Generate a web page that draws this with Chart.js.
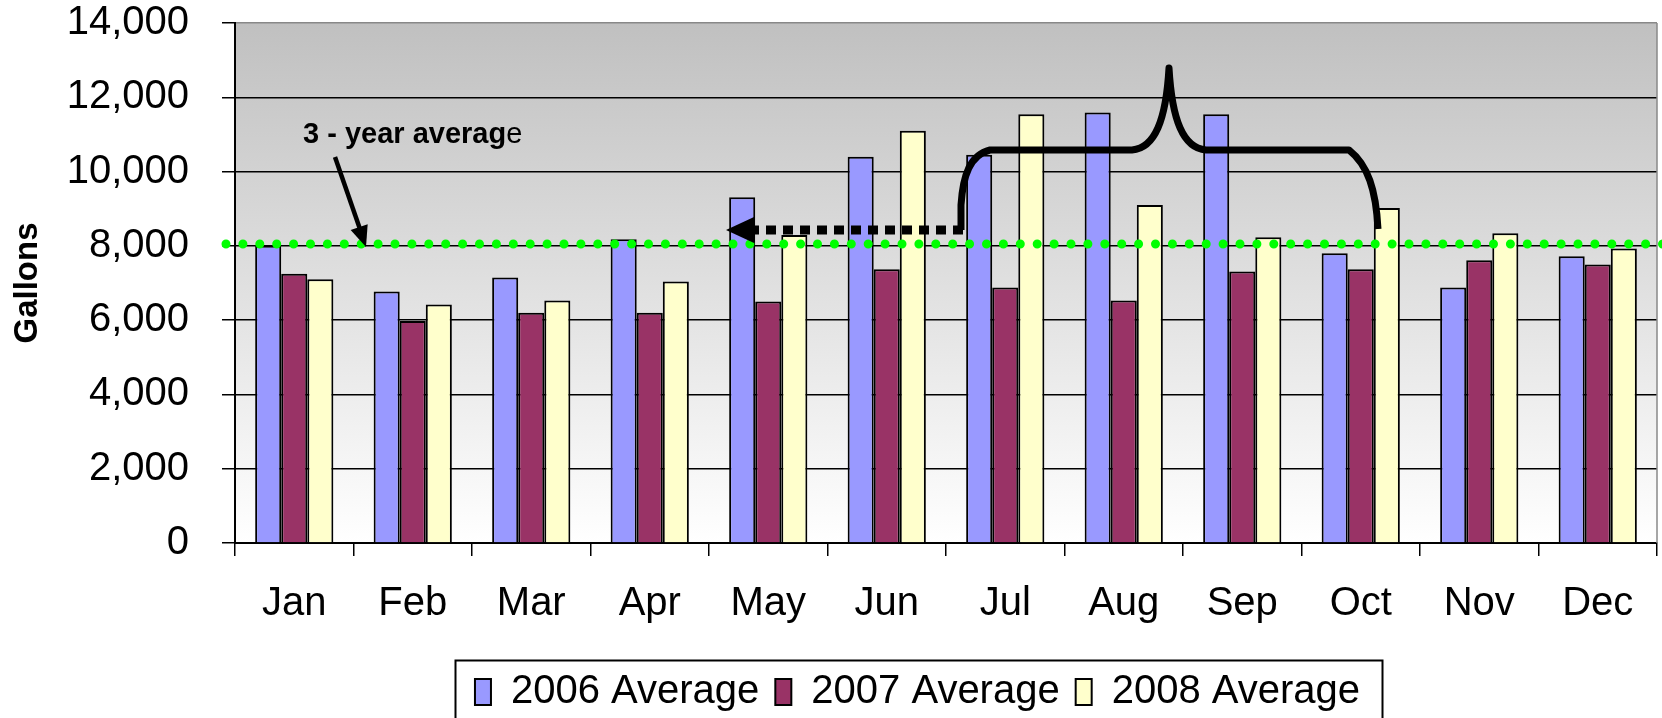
<!DOCTYPE html>
<html>
<head>
<meta charset="utf-8">
<title>Monthly Average Gallons</title>
<script src="https://cdn.jsdelivr.net/npm/chart.js@4.4.0/dist/chart.umd.min.js"></script>
<style>
  html, body { margin: 0; padding: 0; background: #fff; }
  #wrap { width: 1662px; height: 718px; }
</style>
</head>
<body>
<div id="wrap"><canvas id="usageChart"></canvas></div>
<script>
const months = ["Jan", "Feb", "Mar", "Apr", "May", "Jun", "Jul", "Aug", "Sep", "Oct", "Nov", "Dec"];
const avg2006 = [8000, 6770, 7150, 8180, 9310, 10400, 10450, 11590, 11540, 7800, 6880, 7720];
const avg2007 = [7250, 5980, 6200, 6200, 6500, 7370, 6880, 6530, 7310, 7370, 7610, 7500];
const avg2008 = [7100, 6420, 6530, 7040, 8290, 11100, 11540, 9100, 8230, 9020, 8340, 7930];
const yTicks = [0, 2000, 4000, 6000, 8000, 10000, 12000, 14000];
const threeYearAverage = 8050;

const FONT = "'Liberation Sans', Arial, Helvetica, sans-serif";

// grey-to-white fill behind the bars
const plotBackground = {
  id: "plotBackground",
  beforeDraw(chart) {
    const { ctx, chartArea: a } = chart;
    const g = ctx.createLinearGradient(0, a.top, 0, a.bottom);
    g.addColorStop(0, "#c0c0c0");
    g.addColorStop(1, "#ffffff");
    ctx.save();
    ctx.fillStyle = g;
    ctx.fillRect(a.left, a.top, a.right - a.left, a.bottom - a.top);
    ctx.restore();
  },
  afterDatasetsDraw(chart) {
    const { ctx, chartArea: a } = chart;
    ctx.save();
    // right border of the plot
    ctx.strokeStyle = "#888";
    ctx.lineWidth = 1.5;
    ctx.beginPath();
    ctx.moveTo(a.right, a.top);
    ctx.lineTo(a.right, a.bottom);
    ctx.stroke();
    // green dotted 3-year average line
    const y = chart.scales.y.getPixelForValue(threeYearAverage);
    ctx.strokeStyle = "#00ff00";
    ctx.lineWidth = 9;
    ctx.lineCap = "round";
    ctx.setLineDash([0, 16.9]);
    ctx.beginPath();
    ctx.moveTo(a.left - 9, y);
    ctx.lineTo(chart.width + 10, y);
    ctx.stroke();
    ctx.restore();
  }
};

function arrowHead(ctx, tx, ty, fx, fy, len, half) {
  const ang = Math.atan2(ty - fy, tx - fx);
  ctx.beginPath();
  ctx.moveTo(tx, ty);
  ctx.lineTo(tx - len * Math.cos(ang) + half * Math.sin(ang), ty - len * Math.sin(ang) - half * Math.cos(ang));
  ctx.lineTo(tx - len * Math.cos(ang) - half * Math.sin(ang), ty - len * Math.sin(ang) + half * Math.cos(ang));
  ctx.closePath();
  ctx.fill();
}

// hand-drawn notes on top of the chart
const notes = {
  id: "notes",
  afterDraw(chart) {
    const ctx = chart.ctx;
    ctx.save();
    ctx.fillStyle = "#000";
    ctx.strokeStyle = "#000";

    // label
    ctx.textBaseline = "middle";
    ctx.font = "bold 29px " + FONT;
    const part = "3 - year averag";
    ctx.fillText(part, 303, 135);
    const w = ctx.measureText(part).width;
    ctx.font = "29px " + FONT;
    ctx.fillText("e", 303 + w, 135);

    // arrow to the average line
    ctx.lineWidth = 4.5;
    ctx.beginPath();
    ctx.moveTo(335, 157);
    ctx.lineTo(361, 232);
    ctx.stroke();
    arrowHead(ctx, 366, 247, 335, 157, 21, 9);

    // dotted arrow pointing left
    ctx.lineWidth = 9;
    ctx.setLineDash([10, 7]);
    ctx.beginPath();
    ctx.moveTo(963, 230);
    ctx.lineTo(750, 230);
    ctx.stroke();
    ctx.setLineDash([]);
    ctx.beginPath();
    ctx.moveTo(726, 230);
    ctx.lineTo(754, 217);
    ctx.lineTo(754, 243);
    ctx.closePath();
    ctx.fill();

    // curly brace over the summer months
    ctx.lineWidth = 7;
    ctx.lineJoin = "round";
    ctx.beginPath();
    ctx.moveTo(961, 230);
    ctx.lineTo(961, 205);
    ctx.bezierCurveTo(963, 175, 970, 155, 990, 150);
    ctx.lineTo(1132, 150);
    ctx.bezierCurveTo(1155, 148, 1166, 120, 1169, 68);
    ctx.bezierCurveTo(1172, 120, 1183, 148, 1206, 150);
    ctx.lineTo(1349, 150);
    ctx.bezierCurveTo(1368, 165, 1376, 190, 1378, 229);
    ctx.stroke();
    ctx.restore();
  }
};

// move the legend under the bars and frame it
const legendFrame = {
  id: "legendFrame",
  afterLayout(chart) {
    const lg = chart.legend;
    lg.left += 89;
    lg.right += 89;
    lg.top += 4;
    lg.bottom += 4;
  },
  afterDraw(chart) {
    const boxes = chart.legend.legendHitBoxes;
    if (!boxes || !boxes.length) return;
    const l = Math.min(...boxes.map(b => b.left)) - 20;
    const r = Math.max(...boxes.map(b => b.left + b.width)) + 22;
    const ctx = chart.ctx;
    ctx.save();
    ctx.strokeStyle = "#000";
    ctx.lineWidth = 2;
    ctx.strokeRect(Math.round(l) + 0.5, 660.5, Math.round(r - l), 62);
    ctx.restore();
  }
};

const ctx = document.getElementById("usageChart").getContext("2d");

new Chart(ctx, {
  type: "bar",
  data: {
    labels: months,
    datasets: [
      {
        label: "2006 Average",
        data: avg2006,
        backgroundColor: "#9999ff",
        borderColor: "#000",
        borderWidth: 2,
      },
      {
        label: "2007 Average",
        data: avg2007,
        backgroundColor: "#993366",
        borderColor: "#000",
        borderWidth: 2,
      },
      {
        label: "2008 Average",
        data: avg2008,
        backgroundColor: "#ffffcc",
        borderColor: "#000",
        borderWidth: 2,
      },
    ],
  },
  options: {
    responsive: true,
    maintainAspectRatio: false,
    animation: false,
    categoryPercentage: 0.66,
    barPercentage: 1,
    layout: { padding: { left: 0, top: 23, right: 5, bottom: 0 } },
    plugins: {
      tooltip: { enabled: false },
      legend: {
        position: "bottom",
        labels: {
          color: "#000",
          font: { family: FONT, size: 40 },
          boxWidth: 16,
          boxHeight: 26,
          padding: 16,
        },
      },
    },
    scales: {
      x: {
        grid: {
          offset: true,
          drawOnChartArea: false,
          drawTicks: true,
          tickLength: 13,
          color: "#000",
          lineWidth: 1.5,
        },
        border: { display: true, color: "#000", width: 2 },
        ticks: {
          color: "#000",
          padding: 24,
          font: { family: FONT, size: 40 },
          maxRotation: 0,
        },
        afterFit: (s) => { s.height = 109; s.paddingLeft = 0; s.paddingRight = 0; },
      },
      y: {
        min: 0,
        max: 14000,
        afterBuildTicks: (s) => { s.ticks = yTicks.map(v => ({ value: v })); },
        grid: {
          color: (c) => (c.tick && c.tick.value === 14000 ? "#888" : "#000"),
          lineWidth: 1.5,
          tickLength: 13,
          tickColor: "#000",
        },
        border: { display: true, color: "#000", width: 2 },
        ticks: {
          color: "#000",
          padding: 33,
          font: { family: FONT, size: 40 },
          callback: (v) => Number(v).toLocaleString("en-US"),
        },
        title: {
          display: true,
          text: "Gallons",
          color: "#000",
          font: { family: FONT, size: 33, weight: "bold" },
          padding: { top: 8, bottom: 4 },
        },
        afterFit: (s) => { s.width = 235; s.paddingTop = 0; s.paddingBottom = 0; },
      },
    },
  },
  plugins: [plotBackground, notes, legendFrame],
});
</script>
</body>
</html>
